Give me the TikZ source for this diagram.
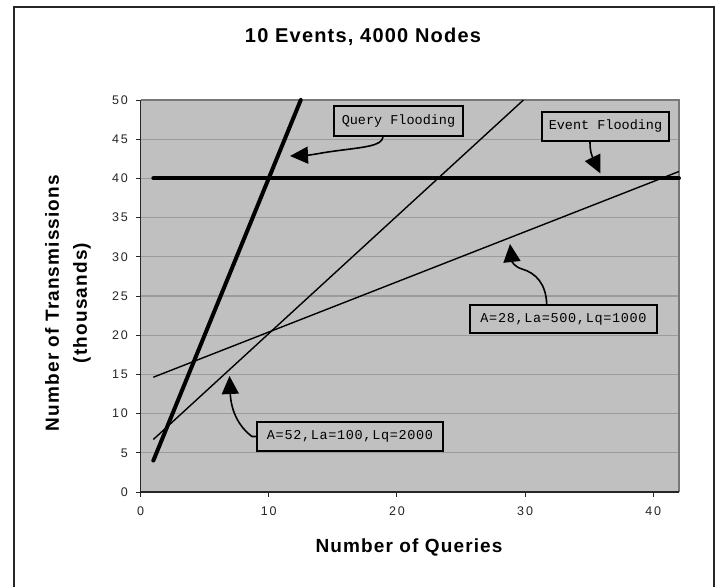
\documentclass[tikz,border=0pt]{standalone}
\usepackage{fontspec}
\setmainfont{Liberation Sans}
\newfontfamily\monof{Liberation Mono}
\usetikzlibrary{arrows.meta}
\definecolor{plotbg}{RGB}{192,192,192}
\definecolor{gridc}{RGB}{155,155,155}
\definecolor{borderc}{RGB}{120,120,120}
\tikzset{
  ticklab/.style={font=\fontsize{12.5}{14}\selectfont\addfontfeature{LetterSpace=15}, text=black!85, inner sep=0pt},
  axlab/.style={font=\fontsize{19}{28}\selectfont\bfseries\addfontfeature{LetterSpace=6}, inner sep=0pt, align=center},
  titlelab/.style={font=\fontsize{20}{24}\selectfont\bfseries\addfontfeature{LetterSpace=6}, inner sep=0pt},
  callbox/.style={draw=black, line width=1.8pt, fill=plotbg, inner sep=0pt, font=\fontsize{13.5}{15}\selectfont\monof},
  callarrow/.style={line width=1.6pt, -{Triangle[length=18pt,width=17pt]}},
  thickline/.style={line width=4pt, line cap=round},
  thinline/.style={line width=1.4pt},
}
\begin{document}
\begin{tikzpicture}[x=1pt,y=-1pt]
\useasboundingbox (0,0) rectangle (717,586);
\fill[white] (0,0) rectangle (717,586);
% outer frame (bottom edge lies below the page)
\draw[line width=1.3pt, black!85] (14,590) -- (14,7) -- (714,7) -- (714,590);
% title
\node[titlelab] (title) at (363,37) {10 Events, 4000 Nodes};
% plot area in data coordinates
\begin{scope}[shift={(140.5pt,-492pt)}, x=12.82pt, y=7.84pt]
  \fill[plotbg] (0,0) rectangle (42,50);
  \foreach \v in {5,10,...,45} \draw[gridc, line width=1.2pt] (0,\v) -- (42,\v);
  \draw[borderc, line width=1.2pt] (0,50) -- (42,50) -- (42,0);
  \draw[black!85, line width=1.2pt] (0,50) -- (0,0) -- (42,0);
  \foreach \v in {0,5,...,50} {
    \draw[black!85, line width=1pt] (0,\v) -- ++(-4.5pt,0);
    \node[ticklab, anchor=east] at ([xshift=-12.5pt]0,\v) {\v};
  }
  \foreach \v in {0,10,20,30,40} {
    \draw[black!85, line width=1pt] (\v,0) -- ++(0,-4.5pt);
    \node[ticklab] at ([yshift=-19pt]\v,0) {\v};
  }
  % data lines
  \draw[thickline] (1,40) -- (42,40);
  \draw[thickline] (1,4) -- (12.5,50);
  \draw[thinline] (1,6.7) -- (29.87,50);
  \draw[thinline] (1,14.64) -- (42,40.88);
\end{scope}
% axis labels
\node[axlab] (xlab) at (409,547) {Number of Queries};
\node[axlab, rotate=90] (ylab) at (68,303) {Number of Transmissions\\(thousands)};
% callout boxes
\node[callbox, minimum width=129pt, minimum height=30pt] (qbox) at (398.5,121) {Query Flooding};
\node[callbox, minimum width=127pt, minimum height=29pt] (ebox) at (605.5,126.5) {Event Flooding};
\node[callbox, minimum width=187pt, minimum height=28pt, font=\fontsize{13.5}{15}\selectfont\monof\addfontfeature{LetterSpace=5}] (bbox) at (563.5,319) {A=28,La=500,Lq=1000};
\node[callbox, minimum width=186pt, minimum height=29pt, font=\fontsize{13.5}{15}\selectfont\monof\addfontfeature{LetterSpace=5}] (abox) at (350,436.5) {A=52,La=100,Lq=2000};
% arrow tips
\coordinate (qtip) at (290,156);
\coordinate (etip) at (600.5,173.5);
\coordinate (btip) at (510,244);
\coordinate (atip) at (229.5,376);
% callout connectors
\draw[callarrow] (qbox.south -| 383,0) .. controls (382,146) and (365,147) .. (335,151) .. controls (320,153) and (312,155) .. (qtip);
\draw[callarrow] (ebox.south -| 590,0) .. controls (590,152) and (592,156) .. (etip);
\draw[callarrow] (bbox.north -| 546.7,0) .. controls (546,284) and (536,273) .. (522,269) .. controls (515,267) and (512,262) .. (btip);
\draw[callarrow] (abox.west) -- (252,436.5) .. controls (238,426) and (231,410) .. (atip);
\end{tikzpicture}
\end{document}
